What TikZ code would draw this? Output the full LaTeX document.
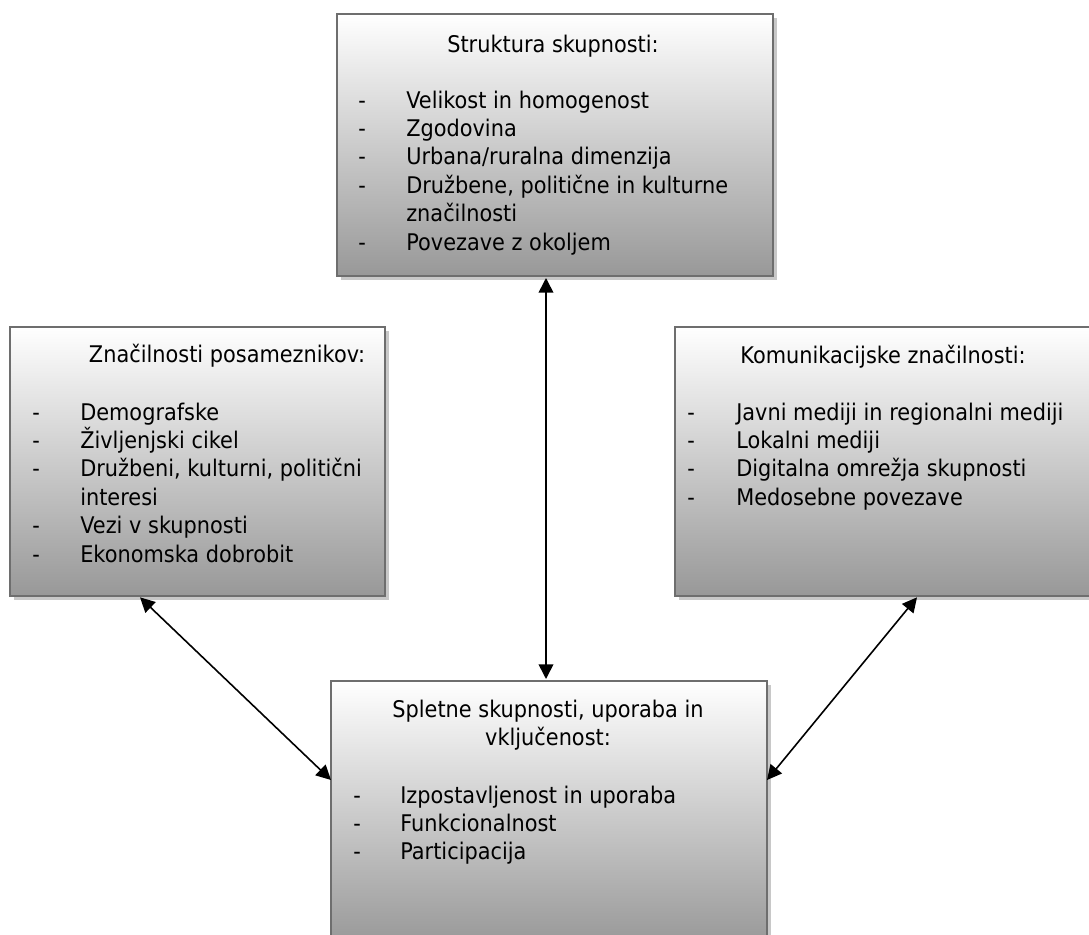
\documentclass[tikz,border=0pt]{standalone}
\usepackage{fontspec}
\setmainfont{DejaVu Sans}[FakeStretch=0.91]
\usetikzlibrary{arrows.meta,shadows}
\definecolor{bordergray}{HTML}{6E6E6E}
\definecolor{shadowgray}{HTML}{C8C8C8}
\definecolor{bottomgray}{HTML}{989898}
\begin{document}
\begin{tikzpicture}[x=0.75pt,y=-0.75pt,
  box/.style={rectangle, draw=bordergray, line width=1.5pt, top color=white, bottom color=bottomgray,
    inner sep=0pt, outer sep=0pt,
    drop shadow={shadow xshift=3pt, shadow yshift=-3pt, fill=shadowgray, opacity=1}},
  txt/.style={anchor=base west, inner sep=0pt, font=\fontsize{17.2}{21}\selectfont},
  ttl/.style={anchor=base, inner sep=0pt, font=\fontsize{17.2}{21}\selectfont},
  arr/.style={{Triangle[length=11pt,width=11pt]}-{Triangle[length=11pt,width=11pt]}, line width=1.2pt, black}]
\useasboundingbox (0,0) rectangle (1089,935);
\clip (0,0) rectangle (1089,935);
% boxes
\node[box, minimum width=327pt, minimum height=196.5pt] (top) at (555,145) {};
\node[box, minimum width=281.25pt, minimum height=201.75pt] (left) at (197.5,461.5) {};
\node[box, minimum width=312pt, minimum height=201.75pt] (right) at (883,461.5) {};
\node[box, minimum width=327pt, minimum height=198pt] (bot) at (549,813) {};
% top box text
\node[ttl] (t0) at (553,52) {Struktura skupnosti:};
\node[txt] (td1) at (358,108) {-};
\node[txt] (td2) at (358,136.4) {-};
\node[txt] (td3) at (358,164.8) {-};
\node[txt] (td4) at (358,193.2) {-};
\node[txt] (td5) at (358,250) {-};
\node[txt] (tt1) at (406,108) {Velikost in homogenost};
\node[txt] (tt2) at (406,136.4) {Zgodovina};
\node[txt] (tt3) at (406,164.8) {Urbana/ruralna dimenzija};
\node[txt] (tt4) at (406,193.2) {Družbene, politične in kulturne};
\node[txt] (tt5) at (406,221.6) {značilnosti};
\node[txt] (tt6) at (406,250) {Povezave z okoljem};
% left box text
\node[ttl] (l0) at (227,362) {Značilnosti posameznikov:};
\node[txt] (ld1) at (32,420) {-};
\node[txt] (ld2) at (32,448.4) {-};
\node[txt] (ld3) at (32,476.8) {-};
\node[txt] (ld4) at (32,533.6) {-};
\node[txt] (ld5) at (32,562) {-};
\node[txt] (lt1) at (80,420) {Demografske};
\node[txt] (lt2) at (80,448.4) {Življenjski cikel};
\node[txt] (lt3) at (80,476.8) {Družbeni, kulturni, politični};
\node[txt] (lt4) at (80,505.2) {interesi};
\node[txt] (lt5) at (80,533.6) {Vezi v skupnosti};
\node[txt] (lt6) at (80,562) {Ekonomska dobrobit};
% right box text
\node[ttl] (r0) at (883,363) {Komunikacijske značilnosti:};
\node[txt] (rd1) at (687,420) {-};
\node[txt] (rd2) at (687,448.4) {-};
\node[txt] (rd3) at (687,476.8) {-};
\node[txt] (rd4) at (687,505.2) {-};
\node[txt] (rt1) at (736,420) {Javni mediji in regionalni mediji};
\node[txt] (rt2) at (736,448.4) {Lokalni mediji};
\node[txt] (rt3) at (736,476.8) {Digitalna omrežja skupnosti};
\node[txt] (rt4) at (736,505.2) {Medosebne povezave};
% bottom box text
\node[ttl] (b0) at (548,717) {Spletne skupnosti, uporaba in};
\node[ttl] (b1) at (548,745) {vključenost:};
\node[txt] (bd1) at (353,803) {-};
\node[txt] (bd2) at (353,831.4) {-};
\node[txt] (bd3) at (353,859.8) {-};
\node[txt] (bt1) at (400,803) {Izpostavljenost in uporaba};
\node[txt] (bt2) at (400,831.4) {Funkcionalnost};
\node[txt] (bt3) at (400,859.8) {Participacija};
% connectors
\draw[arr] ([xshift=-6.75pt,yshift=-1.5pt]top.south) -- ([xshift=-2.25pt,yshift=1.5pt]bot.north);
\draw[arr] ([xshift=-43.125pt,yshift=-1pt]left.south) -- ([yshift=24.75pt]bot.west);
\draw[arr] ([xshift=25.5pt,yshift=-1pt]right.south) -- ([yshift=24.75pt]bot.east);
\end{tikzpicture}
\end{document}
